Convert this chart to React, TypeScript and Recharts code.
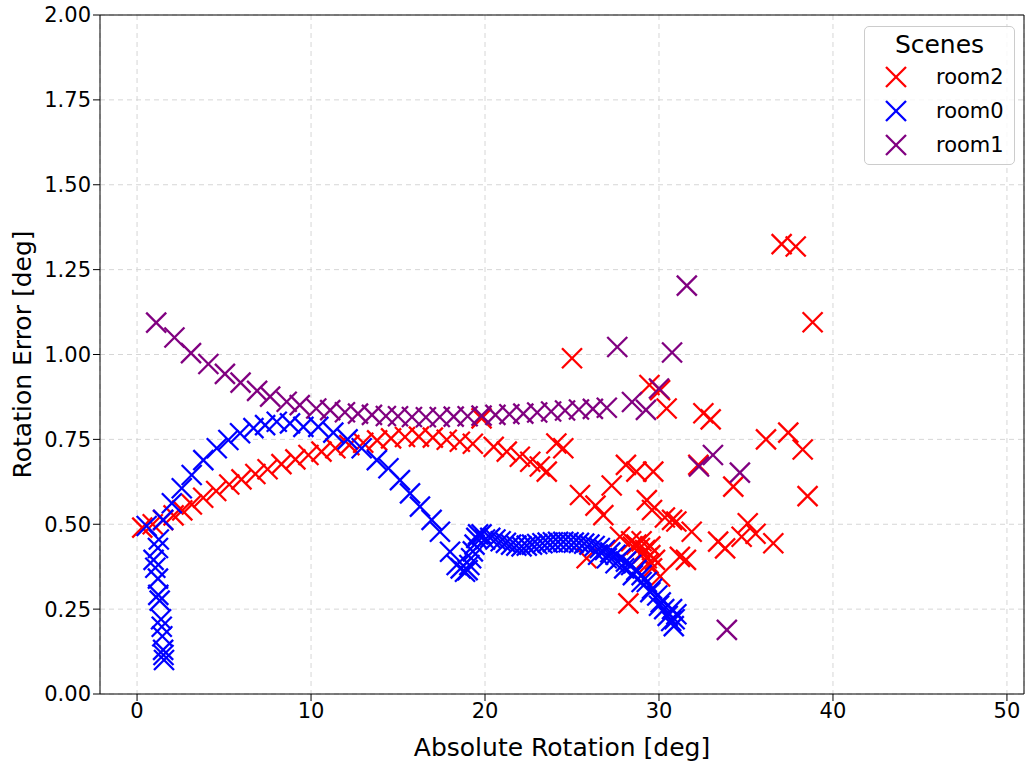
import React from "react";
import { ScatterChart, Scatter, XAxis, YAxis, CartesianGrid, ReferenceLine } from "recharts";

type Pt = { x: number; y: number };

// room2 (red)
const room2: Pt[] = [
  { x: 0.3, y: 0.49 }, { x: 0.9, y: 0.5 }, { x: 1.5, y: 0.512 }, { x: 2.1, y: 0.526 }, { x: 2.6, y: 0.541 },
  { x: 3.15, y: 0.558 }, { x: 3.8, y: 0.578 }, { x: 4.55, y: 0.598 }, { x: 5.3, y: 0.617 }, { x: 6.0, y: 0.632 },
  { x: 6.8, y: 0.648 }, { x: 7.5, y: 0.662 }, { x: 8.3, y: 0.677 }, { x: 9.1, y: 0.691 }, { x: 9.85, y: 0.704 },
  { x: 10.6, y: 0.714 }, { x: 11.4, y: 0.724 }, { x: 12.2, y: 0.733 }, { x: 13.0, y: 0.74 }, { x: 13.8, y: 0.747 },
  { x: 14.6, y: 0.753 }, { x: 15.4, y: 0.757 }, { x: 16.2, y: 0.758 }, { x: 17.0, y: 0.755 }, { x: 17.8, y: 0.749 },
  { x: 18.55, y: 0.743 }, { x: 19.3, y: 0.737 }, { x: 20.5, y: 0.728 }, { x: 21.25, y: 0.714 }, { x: 22.0, y: 0.699 },
  { x: 22.6, y: 0.684 }, { x: 23.15, y: 0.67 }, { x: 23.55, y: 0.655 },
  { x: 19.8, y: 0.812 }, { x: 24.1, y: 0.738 }, { x: 24.5, y: 0.724 }, { x: 25.0, y: 0.989 }, { x: 25.46, y: 0.586 },
  { x: 25.84, y: 0.4 }, { x: 26.35, y: 0.555 }, { x: 26.8, y: 0.527 }, { x: 27.28, y: 0.614 }, { x: 27.76, y: 0.463 },
  { x: 28.1, y: 0.675 }, { x: 28.24, y: 0.267 }, { x: 28.5, y: 0.434 }, { x: 28.7, y: 0.655 }, { x: 29.2, y: 0.424 },
  { x: 29.3, y: 0.571 }, { x: 29.45, y: 0.91 }, { x: 29.5, y: 0.409 }, { x: 29.6, y: 0.542 }, { x: 29.67, y: 0.655 },
  { x: 29.77, y: 0.395 }, { x: 30.06, y: 0.895 }, { x: 30.06, y: 0.346 }, { x: 30.34, y: 0.52 }, { x: 30.44, y: 0.841 },
  { x: 30.75, y: 0.513 }, { x: 31.0, y: 0.508 }, { x: 31.2, y: 0.404 }, { x: 31.55, y: 0.395 }, { x: 31.88, y: 0.478 },
  { x: 32.26, y: 0.675 }, { x: 32.55, y: 0.827 }, { x: 32.97, y: 0.809 }, { x: 33.4, y: 0.449 }, { x: 33.8, y: 0.429 },
  { x: 34.27, y: 0.611 }, { x: 34.75, y: 0.463 }, { x: 35.1, y: 0.503 }, { x: 35.55, y: 0.472 }, { x: 36.15, y: 0.75 },
  { x: 36.57, y: 0.444 }, { x: 37.05, y: 1.325 }, { x: 37.43, y: 0.77 }, { x: 37.86, y: 1.318 }, { x: 38.26, y: 0.72 },
  { x: 38.54, y: 0.583 }, { x: 38.83, y: 1.095 },
  { x: 28.4, y: 0.45 }, { x: 28.7, y: 0.44 }, { x: 28.9, y: 0.43 }, { x: 29.1, y: 0.415 }, { x: 29.3, y: 0.4 },
  { x: 29.4, y: 0.385 }, { x: 29.6, y: 0.37 }, { x: 29.0, y: 0.45 }, { x: 29.5, y: 0.435 },
];

// room0 (blue)
const room0: Pt[] = [
  { x: 0.55, y: 0.495 }, { x: 1.25, y: 0.455 }, { x: 1.2, y: 0.43 }, { x: 0.95, y: 0.395 }, { x: 1.05, y: 0.372 },
  { x: 1.2, y: 0.34 }, { x: 1.22, y: 0.292 }, { x: 1.3, y: 0.275 }, { x: 1.38, y: 0.22 }, { x: 1.42, y: 0.198 },
  { x: 1.45, y: 0.17 }, { x: 1.5, y: 0.13 }, { x: 1.52, y: 0.115 }, { x: 1.55, y: 0.1 },
  { x: 1.5, y: 0.513 }, { x: 2.0, y: 0.562 }, { x: 2.57, y: 0.606 }, { x: 3.14, y: 0.645 }, { x: 3.81, y: 0.689 },
  { x: 4.58, y: 0.724 }, { x: 5.25, y: 0.748 }, { x: 5.92, y: 0.768 }, { x: 6.69, y: 0.783 }, { x: 7.36, y: 0.792 },
  { x: 8.03, y: 0.802 }, { x: 8.79, y: 0.797 }, { x: 9.56, y: 0.787 }, { x: 10.42, y: 0.787 }, { x: 11.28, y: 0.77 },
  { x: 12.1, y: 0.75 }, { x: 12.91, y: 0.724 }, { x: 13.78, y: 0.689 }, { x: 14.45, y: 0.665 }, { x: 15.11, y: 0.63 },
  { x: 15.69, y: 0.591 }, { x: 16.26, y: 0.552 }, { x: 16.93, y: 0.513 }, { x: 17.41, y: 0.478 }, { x: 17.99, y: 0.419 },
  { x: 18.37, y: 0.38 }, { x: 18.6, y: 0.37 }, { x: 18.85, y: 0.36 }, { x: 19.0, y: 0.365 }, { x: 19.1, y: 0.38 },
  { x: 19.2, y: 0.4 }, { x: 19.3, y: 0.42 }, { x: 19.4, y: 0.44 }, { x: 19.5, y: 0.46 }, { x: 19.6, y: 0.47 },
  { x: 19.8, y: 0.47 }, { x: 20.0, y: 0.455 }, { x: 20.3, y: 0.46 }, { x: 20.6, y: 0.455 }, { x: 20.9, y: 0.45 },
  { x: 21.2, y: 0.445 }, { x: 21.5, y: 0.44 }, { x: 21.8, y: 0.437 }, { x: 22.1, y: 0.435 }, { x: 22.4, y: 0.437 },
  { x: 22.7, y: 0.44 }, { x: 23.0, y: 0.442 }, { x: 23.3, y: 0.444 }, { x: 23.6, y: 0.446 }, { x: 23.9, y: 0.447 },
  { x: 24.2, y: 0.448 }, { x: 24.5, y: 0.448 }, { x: 24.8, y: 0.447 }, { x: 25.1, y: 0.446 }, { x: 25.4, y: 0.445 },
  { x: 25.7, y: 0.443 }, { x: 26.0, y: 0.44 }, { x: 26.3, y: 0.436 }, { x: 26.6, y: 0.43 }, { x: 26.9, y: 0.424 },
  { x: 27.2, y: 0.417 }, { x: 27.5, y: 0.41 }, { x: 27.8, y: 0.4 }, { x: 28.1, y: 0.39 }, { x: 28.4, y: 0.38 },
  { x: 28.7, y: 0.365 }, { x: 29.0, y: 0.35 }, { x: 29.3, y: 0.33 }, { x: 29.6, y: 0.31 }, { x: 29.9, y: 0.29 },
  { x: 30.1, y: 0.27 }, { x: 30.3, y: 0.25 }, { x: 30.5, y: 0.23 }, { x: 30.7, y: 0.215 }, { x: 30.85, y: 0.2 },
  { x: 30.9, y: 0.22 }, { x: 30.75, y: 0.25 }, { x: 31.0, y: 0.235 },
  { x: 26.5, y: 0.41 }, { x: 27.0, y: 0.4 }, { x: 27.5, y: 0.385 }, { x: 28.0, y: 0.37 }, { x: 28.5, y: 0.35 },
  { x: 29.0, y: 0.33 }, { x: 29.5, y: 0.3 }, { x: 30.0, y: 0.26 },
];

// room1 (purple)
const room1: Pt[] = [
  { x: 1.1, y: 1.094 }, { x: 2.15, y: 1.05 }, { x: 3.1, y: 1.004 }, { x: 4.1, y: 0.972 }, { x: 5.05, y: 0.943 },
  { x: 5.95, y: 0.917 }, { x: 6.9, y: 0.893 }, { x: 7.65, y: 0.876 }, { x: 8.6, y: 0.861 }, { x: 9.35, y: 0.851 },
  { x: 10.3, y: 0.841 }, { x: 11.1, y: 0.836 }, { x: 11.95, y: 0.83 }, { x: 12.7, y: 0.826 }, { x: 13.5, y: 0.822 },
  { x: 14.3, y: 0.819 }, { x: 15.0, y: 0.818 }, { x: 15.8, y: 0.816 }, { x: 16.6, y: 0.815 }, { x: 17.4, y: 0.816 },
  { x: 18.2, y: 0.817 }, { x: 19.0, y: 0.818 }, { x: 19.8, y: 0.82 }, { x: 20.6, y: 0.822 }, { x: 21.4, y: 0.824 },
  { x: 22.2, y: 0.826 }, { x: 23.0, y: 0.829 }, { x: 23.8, y: 0.832 }, { x: 24.6, y: 0.835 }, { x: 25.4, y: 0.838 },
  { x: 26.2, y: 0.84 }, { x: 27.0, y: 0.843 },
  { x: 27.6, y: 1.022 }, { x: 28.45, y: 0.86 }, { x: 29.25, y: 0.837 }, { x: 30.0, y: 0.9 }, { x: 30.75, y: 1.006 },
  { x: 31.6, y: 1.203 }, { x: 32.3, y: 0.67 }, { x: 33.1, y: 0.704 }, { x: 33.9, y: 0.189 }, { x: 34.65, y: 0.652 },
];

const series = [
  { name: "room2", data: room2, color: "#ff0000" },
  { name: "room0", data: room0, color: "#0000ff" },
  { name: "room1", data: room1, color: "#800080" },
];

const xTicks = [0, 10, 20, 30, 40, 50];
const yTicks = [0, 0.25, 0.5, 0.75, 1.0, 1.25, 1.5, 1.75, 2.0];
const X_MIN = -2.13;
const X_MAX = 50.98;

const FONT = "DejaVu Sans, sans-serif";

const cross = (color: string) => (props: any) => {
  const { cx, cy } = props;
  const h = 10;
  return (
    <g>
      <line x1={cx - h} y1={cy - h} x2={cx + h} y2={cy + h} stroke={color} strokeWidth={2.3} />
      <line x1={cx - h} y1={cy + h} x2={cx + h} y2={cy - h} stroke={color} strokeWidth={2.3} />
    </g>
  );
};

const LegendBox = () => (
  <div style={{ position: "absolute", left: 864, top: 26, border: "1px solid #cccccc", borderRadius: 5, background: "rgba(255,255,255,0.8)", width: 151, height: 139, fontFamily: FONT, boxSizing: "border-box" }}>
    <div style={{ textAlign: "center", fontSize: 25, lineHeight: "30px", marginTop: 3, color: "#000" }}>Scenes</div>
    {series.map((s) => (
      <div key={s.name} style={{ display: "flex", alignItems: "center", height: 34 }}>
        <svg width={60} height={24} style={{ display: "block" }}>
          <line x1={21} y1={2} x2={41} y2={22} stroke={s.color} strokeWidth={2.3} />
          <line x1={21} y1={22} x2={41} y2={2} stroke={s.color} strokeWidth={2.3} />
        </svg>
        <span style={{ fontSize: 21, marginLeft: 11, color: "#000" }}>{s.name}</span>
      </div>
    ))}
  </div>
);

export default function App() {
  return (
    <div style={{ position: "absolute", left: 0, top: 0, width: 1026, height: 762, background: "#fff" }}>
      <ScatterChart width={1026} height={762} margin={{ top: 15, right: 2, bottom: 0, left: 0 }}>
        <CartesianGrid strokeDasharray="5 4" stroke="#d6d6d6" />
        <XAxis
          type="number"
          dataKey="x"
          domain={[X_MIN, X_MAX]}
          allowDataOverflow
          ticks={xTicks}
          height={68}
          tickSize={7}
          stroke="#000"
          tick={{ fill: "#000", fontSize: 21, fontFamily: FONT }}
          label={{ value: "Absolute Rotation [deg]", position: "insideBottom", offset: 6, style: { fontSize: 25, fontFamily: FONT, fill: "#000" } }}
        />
        <YAxis
          type="number"
          dataKey="y"
          domain={[0, 2]}
          allowDataOverflow
          ticks={yTicks}
          width={100}
          tickSize={7}
          stroke="#000"
          tickFormatter={(v: number) => v.toFixed(2)}
          tick={{ fill: "#000", fontSize: 21, fontFamily: FONT }}
          label={{ value: "Rotation Error [deg]", angle: -90, position: "insideLeft", offset: 22, style: { fontSize: 25, fontFamily: FONT, fill: "#000", textAnchor: "middle" } }}
        />
        <ReferenceLine y={2} stroke="#000" />
        <ReferenceLine x={X_MAX} stroke="#000" />
        {series.map((s) => (
          <Scatter key={s.name} name={s.name} data={s.data} shape={cross(s.color)} isAnimationActive={false} />
        ))}
      </ScatterChart>
      <LegendBox />
    </div>
  );
}
